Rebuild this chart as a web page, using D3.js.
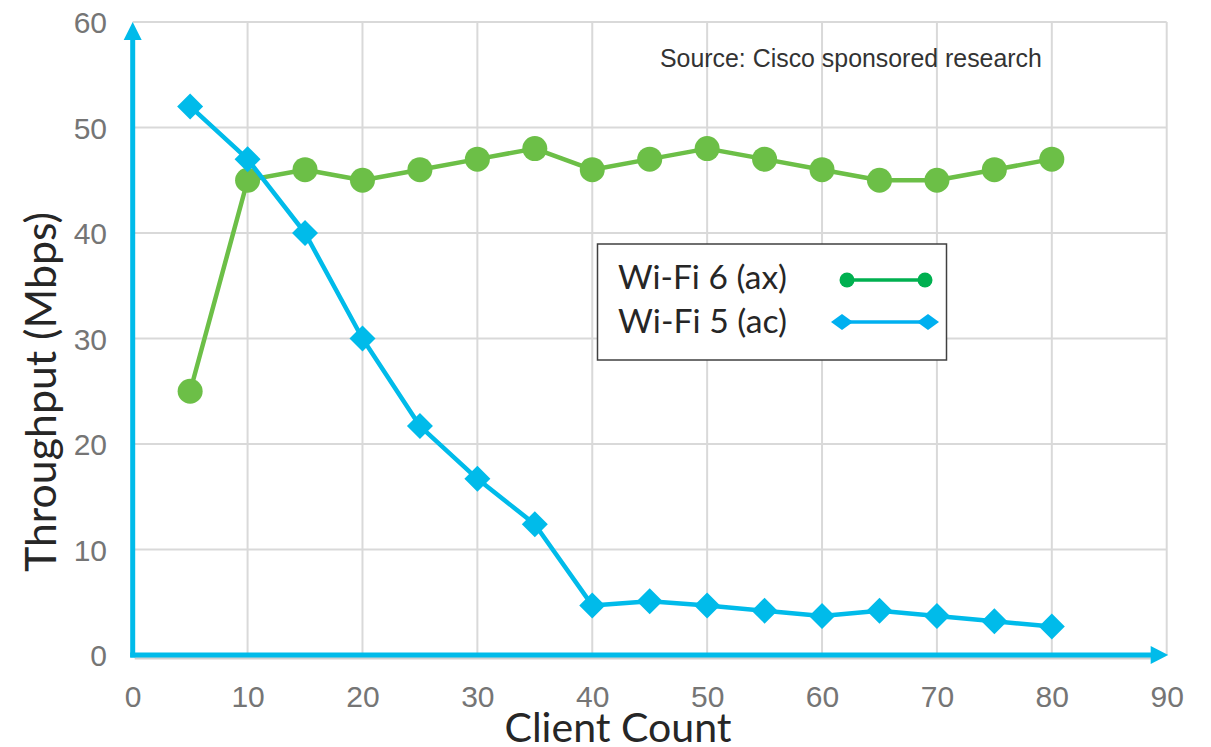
<!DOCTYPE html>
<html>
<head>
<meta charset="utf-8">
<script src="https://cdn.jsdelivr.net/npm/d3@7"></script>
<style>
  html, body { margin: 0; padding: 0; background: #fff; }
  svg { display: block; }
</style>
</head>
<body>
<svg id="chart" width="1211" height="747"></svg>
<script>
// ---- data ----
const clientCounts = [5, 10, 15, 20, 25, 30, 35, 40, 45, 50, 55, 60, 65, 70, 75, 80];
const wifi6 = [25, 45, 46, 45, 46, 47, 48, 46, 47, 48, 47, 46, 45, 45, 46, 47];
const wifi5 = [52, 47, 40, 30, 21.7, 16.7, 12.4, 4.7, 5.1, 4.7, 4.2, 3.7, 4.2, 3.7, 3.2, 2.7];
const xTicks = [0, 10, 20, 30, 40, 50, 60, 70, 80, 90];
const yTicks = [0, 10, 20, 30, 40, 50, 60];
const seriesNames = ["Wi-Fi 6 (ax)", "Wi-Fi 5 (ac)"];
const xTitle = "Client Count";
const yTitle = "Throughput (Mbps)";
const sourceNote = "Source: Cisco sponsored research";

// ---- layout ----
const svg = d3.select("#chart");
const x = d3.scaleLinear().domain([0, 90]).range([132.7, 1166.7]);
const y = d3.scaleLinear().domain([0, 60]).range([655, 22]);

const green = "#6cbf47", blue = "#00bbea";
const legGreen = "#00b050", legBlue = "#00b0f0";

function fit(sel, target) {
  const w = sel.node().getComputedTextLength();
  const fs = parseFloat(sel.attr("font-size"));
  sel.attr("font-size", (fs * target / w).toFixed(2));
}

// gridlines
const grid = svg.append("g").attr("stroke", "#d9d9d9").attr("stroke-width", 2);
grid.selectAll("line.h").data(yTicks.filter(d => d > 0)).join("line")
  .attr("x1", x(0)).attr("x2", x(90))
  .attr("y1", d => y(d)).attr("y2", d => y(d));
grid.selectAll("line.v").data(xTicks.filter(d => d > 0)).join("line")
  .attr("x1", d => x(d)).attr("x2", d => x(d))
  .attr("y1", y(60)).attr("y2", y(0));

// tick labels via axes (domain/ticks hidden)
const xAxis = d3.axisBottom(x).tickValues(xTicks).tickSize(0).tickPadding(0);
const gx = svg.append("g").attr("transform", `translate(0,${y(0)})`).call(xAxis);
gx.select(".domain").remove();
gx.selectAll("text").attr("font-family", "'Liberation Sans', Arial, sans-serif")
  .attr("font-size", 30).attr("fill", "#757575").attr("dy", null).attr("y", 52);

const yAxis = d3.axisLeft(y).tickValues(yTicks).tickSize(0).tickPadding(0);
const gy = svg.append("g").attr("transform", `translate(107,0)`).call(yAxis);
gy.select(".domain").remove();
gy.selectAll("text").attr("font-family", "'Liberation Sans', Arial, sans-serif")
  .attr("font-size", 30).attr("fill", "#757575").attr("x", 0).attr("dy", "0.36em");

// blue axes with arrows
const axG = svg.append("g");
axG.append("line").attr("x1", x(0) + 2).attr("x2", x(90) - 14).attr("y1", y(0) + 3).attr("y2", y(0) + 3)
  .attr("stroke", "#d0d0d0").attr("stroke-width", 3);
axG.append("line").attr("x1", x(0)).attr("x2", x(0)).attr("y1", y(0) + 2.5).attr("y2", y(60) + 14)
  .attr("stroke", blue).attr("stroke-width", 5);
axG.append("line").attr("x1", x(0) - 2.5).attr("x2", x(90) - 14).attr("y1", y(0)).attr("y2", y(0))
  .attr("stroke", blue).attr("stroke-width", 5);
axG.append("path").attr("fill", blue)
  .attr("d", `M${x(0)},${y(60)} L${x(0) + 9},${y(60) + 18} L${x(0) - 9},${y(60) + 18} Z`);
axG.append("path").attr("fill", blue)
  .attr("d", `M${x(90) + 1.5},${y(0)} L${x(90) - 16},${y(0) - 9} L${x(90) - 16},${y(0) + 9} Z`);

// series
const pts6 = clientCounts.map((c, i) => [c, wifi6[i]]);
const pts5 = clientCounts.map((c, i) => [c, wifi5[i]]);
const line = d3.line().x(d => x(d[0])).y(d => y(d[1]));

svg.append("path").datum(pts6).attr("d", line).attr("fill", "none")
  .attr("stroke", green).attr("stroke-width", 4.5).attr("stroke-linejoin", "round");
svg.append("g").selectAll("circle").data(pts6).join("circle")
  .attr("cx", d => x(d[0])).attr("cy", d => y(d[1])).attr("r", 12.5).attr("fill", green);

svg.append("path").datum(pts5).attr("d", line).attr("fill", "none")
  .attr("stroke", blue).attr("stroke-width", 4.5).attr("stroke-linejoin", "round");
const diamond = (cx, cy, rx, ry) => `M${cx},${cy - ry} L${cx + rx},${cy} L${cx},${cy + ry} L${cx - rx},${cy} Z`;
svg.append("g").selectAll("path").data(pts5).join("path")
  .attr("d", d => diamond(x(d[0]), y(d[1]), 13, 13)).attr("fill", blue);

// legend
const lg = svg.append("g");
lg.append("rect").attr("x", 597.5).attr("y", 244).attr("width", 349).attr("height", 116)
  .attr("fill", "#fff").attr("stroke", "#404040").attr("stroke-width", 1.5);
const lt1 = lg.append("text").attr("x", 618).attr("y", 289).text(seriesNames[0])
  .attr("font-family", "Lato, 'Open Sans', sans-serif").attr("font-size", 32).attr("fill", "#262626");
fit(lt1, 169);
const lt2 = lg.append("text").attr("x", 618).attr("y", 333).text(seriesNames[1])
  .attr("font-family", "Lato, 'Open Sans', sans-serif").attr("font-size", 32).attr("fill", "#262626");
fit(lt2, 169);
lg.append("line").attr("x1", 847).attr("x2", 925).attr("y1", 280).attr("y2", 280)
  .attr("stroke", legGreen).attr("stroke-width", 3.5);
lg.selectAll("circle").data([847, 925]).join("circle")
  .attr("cx", d => d).attr("cy", 280).attr("r", 7.5).attr("fill", legGreen);
lg.append("line").attr("x1", 842).attr("x2", 928).attr("y1", 322).attr("y2", 322)
  .attr("stroke", legBlue).attr("stroke-width", 3.5);
lg.selectAll("path.d").data([842, 928]).join("path")
  .attr("d", d => diamond(d, 322, 11, 8)).attr("fill", legBlue);

// source note
const src = svg.append("text").attr("x", 660).attr("y", 67).text(sourceNote)
  .attr("font-family", "'Liberation Sans', Arial, sans-serif").attr("font-size", 22).attr("fill", "#333");
fit(src, 382);

// axis titles
const xt = svg.append("text").attr("x", 618).attr("y", 742).attr("text-anchor", "middle").text(xTitle)
  .attr("font-family", "Lato, 'Open Sans', sans-serif").attr("font-size", 40).attr("fill", "#262626");
fit(xt, 227);
const yt = svg.append("text").attr("transform", "translate(56,392) rotate(-90)").attr("text-anchor", "middle")
  .text(yTitle).attr("font-family", "Lato, 'Open Sans', sans-serif").attr("font-size", 40).attr("fill", "#262626");
fit(yt, 360);
</script>
</body>
</html>
